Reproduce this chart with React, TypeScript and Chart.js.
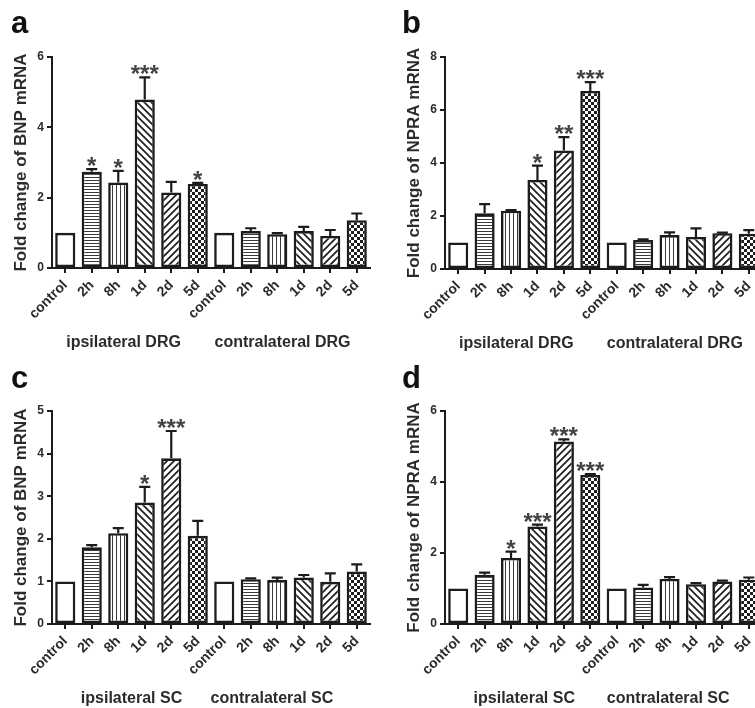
import React, { useEffect, useRef } from 'react';
import { Chart, registerables } from 'chart.js';

Chart.register(...registerables);

const FONT = "'Liberation Sans', Arial, sans-serif";
const TEXT = '#2b2b2b';
const INK = '#1c1c1c';

const categories = ['control', '2h', '8h', '1d', '2d', '5d', 'control', '2h', '8h', '1d', '2d', '5d'];

// Panel a: BNP in DRG
const bnpDrgMean = [1.0, 2.74, 2.43, 4.79, 2.15, 2.39, 1.0, 1.05, 0.96, 1.05, 0.91, 1.36];
const bnpDrgUpper = [1.0, 2.81, 2.76, 5.42, 2.45, 2.42, 1.0, 1.13, 0.99, 1.17, 1.08, 1.55];
const bnpDrgSig = ['', '*', '*', '***', '', '*', '', '', '', '', '', ''];
const bnpDrgTicks = [0, 2, 4, 6];

// Panel b: NPRA in DRG
const npraDrgMean = [1.0, 2.1, 2.2, 3.36, 4.47, 6.72, 1.0, 1.09, 1.28, 1.21, 1.35, 1.33];
const npraDrgUpper = [1.0, 2.45, 2.22, 3.9, 4.98, 7.05, 1.0, 1.12, 1.38, 1.53, 1.37, 1.47];
const npraDrgSig = ['', '', '', '*', '**', '***', '', '', '', '', '', ''];
const npraDrgTicks = [0, 2, 4, 6, 8];

// Panel c: BNP in SC
const bnpScMean = [1.0, 1.8, 2.13, 2.85, 3.89, 2.07, 1.0, 1.05, 1.03, 1.09, 0.99, 1.23];
const bnpScUpper = [1.0, 1.85, 2.25, 3.22, 4.53, 2.42, 1.0, 1.07, 1.09, 1.15, 1.19, 1.4];
const bnpScSig = ['', '', '', '*', '***', '', '', '', '', '', '', ''];
const bnpScTicks = [0, 1, 2, 3, 4, 5];

// Panel d: NPRA in SC
const npraScMean = [1.0, 1.39, 1.86, 2.75, 5.14, 4.2, 1.0, 1.03, 1.27, 1.12, 1.2, 1.25];
const npraScUpper = [1.0, 1.45, 2.04, 2.8, 5.2, 4.22, 1.0, 1.1, 1.32, 1.15, 1.22, 1.31];
const npraScSig = ['', '', '*', '***', '***', '***', '', '', '', '', '', ''];
const npraScTicks = [0, 2, 4, 6];

const drgGroups = ['ipsilateral DRG', 'contralateral DRG'];
const scGroups = ['ipsilateral SC', 'contralateral SC'];

type PanelProps = {
  letter: string;
  left: number;
  top: number;
  width: number;
  height: number;
  chartTop: number;
  chartBottom: number;
  chartRight: number;
  mean: number[];
  upper: number[];
  sig: string[];
  ticks: number[];
  yTitle: string;
  groups: string[];
  groupPos: number[];
};

function makeFills(ctx: CanvasRenderingContext2D) {
  const tile = (w: number, h: number, draw: (g: CanvasRenderingContext2D) => void) => {
    const c = document.createElement('canvas');
    c.width = w;
    c.height = h;
    const g = c.getContext('2d') as CanvasRenderingContext2D;
    g.fillStyle = '#ffffff';
    g.fillRect(0, 0, w, h);
    draw(g);
    return ctx.createPattern(c, 'repeat') as CanvasPattern;
  };
  const horiz = tile(4, 3, (g) => {
    g.fillStyle = '#3a3a3a';
    g.fillRect(0, 0, 4, 1);
  });
  const vert = tile(4, 4, (g) => {
    g.fillStyle = '#3a3a3a';
    g.fillRect(0, 0, 1, 4);
  });
  const back = tile(7, 7, (g) => {
    g.strokeStyle = '#1e1e1e';
    g.lineWidth = 1.7;
    g.beginPath();
    g.moveTo(-2, -2);
    g.lineTo(9, 9);
    g.moveTo(-2, 5);
    g.lineTo(2, 9);
    g.moveTo(5, -2);
    g.lineTo(9, 2);
    g.stroke();
  });
  const fwd = tile(7, 7, (g) => {
    g.strokeStyle = '#1e1e1e';
    g.lineWidth = 1.7;
    g.beginPath();
    g.moveTo(-2, 9);
    g.lineTo(9, -2);
    g.moveTo(-2, 2);
    g.lineTo(2, -2);
    g.moveTo(5, 9);
    g.lineTo(9, 5);
    g.stroke();
  });
  const check = tile(6, 6, (g) => {
    g.fillStyle = '#1e1e1e';
    g.fillRect(0, 0, 3, 3);
    g.fillRect(3, 3, 3, 3);
  });
  const set = ['#ffffff', horiz, vert, back, fwd, check];
  return categories.map((_, i) => set[i % 6]);
}

function Panel(p: PanelProps) {
  const ref = useRef<HTMLCanvasElement | null>(null);
  useEffect(() => {
    const canvas = ref.current as HTMLCanvasElement;
    const ctx = canvas.getContext('2d') as CanvasRenderingContext2D;
    const fills = makeFills(ctx);
    const decor = {
      id: 'decor',
      afterDatasetsDraw(chart: any) {
        const c = chart.ctx as CanvasRenderingContext2D;
        const xs = chart.scales.x;
        const ys = chart.scales.y;
        const meta = chart.getDatasetMeta(0);
        c.save();
        c.strokeStyle = INK;
        c.lineWidth = 2.2;
        meta.data.forEach((bar: any, i: number) => {
          const v = p.mean[i];
          const e = p.upper[i];
          const topPx = ys.getPixelForValue(v);
          const errPx = ys.getPixelForValue(e);
          if (e > v) {
            c.beginPath();
            c.moveTo(bar.x, topPx);
            c.lineTo(bar.x, errPx);
            c.moveTo(bar.x - 5.5, errPx);
            c.lineTo(bar.x + 5.5, errPx);
            c.stroke();
          }
          const s = p.sig[i];
          if (s) {
            c.font = `bold 24px ${FONT}`;
            c.fillStyle = '#444444';
            c.textAlign = 'center';
            c.textBaseline = 'alphabetic';
            const m = c.measureText(s);
            const bottom = Math.min(topPx, errPx) - 3;
            c.fillText(s, bar.x, bottom - m.actualBoundingBoxDescent);
          }
        });
        // group labels
        c.font = `bold 16px ${FONT}`;
        c.fillStyle = TEXT;
        c.textAlign = 'center';
        c.textBaseline = 'middle';
        const x0 = xs.getPixelForTick(0);
        const step = xs.getPixelForTick(1) - x0;
        p.groups.forEach((g, k) => {
          c.fillText(g, x0 + step * p.groupPos[k], chart.chartArea.bottom + 75);
        });
        // panel letter
        c.font = `bold 31px ${FONT}`;
        c.fillStyle = '#111111';
        c.textAlign = 'left';
        c.textBaseline = 'alphabetic';
        c.fillText(p.letter, p.left === 0 ? 11 : 9, 33);
        c.restore();
      },
    };
    const chart = new Chart(canvas, {
      type: 'bar',
      data: {
        labels: categories,
        datasets: [
          {
            data: p.mean,
            backgroundColor: fills as any,
            borderColor: INK,
            borderWidth: 2.6,
            borderSkipped: false,
            barPercentage: 0.76,
            categoryPercentage: 1,
          },
        ],
      },
      options: {
        animation: false,
        responsive: false,
        devicePixelRatio: 1,
        layout: { padding: { top: p.chartTop, right: p.width - p.chartRight, left: 0, bottom: 0 } },
        plugins: { legend: { display: false }, tooltip: { enabled: false }, title: { display: false } },
        scales: {
          x: {
            type: 'category',
            offset: true,
            grid: {
              display: true,
              drawOnChartArea: false,
              drawTicks: true,
              tickLength: 5,
              offset: false,
              color: INK,
              lineWidth: 2,
            },
            border: { display: true, color: INK, width: 2 },
            ticks: {
              color: TEXT,
              font: { family: FONT, size: 14, weight: 'bold' },
              minRotation: 45,
              maxRotation: 45,
              autoSkip: false,
              padding: 4,
            },
            afterFit: (s: any) => {
              s.height = p.height - p.chartBottom;
            },
          },
          y: {
            min: 0,
            max: p.ticks[p.ticks.length - 1],
            afterBuildTicks: (s: any) => {
              s.ticks = p.ticks.map((v) => ({ value: v }));
            },
            grid: {
              display: true,
              drawOnChartArea: false,
              drawTicks: true,
              tickLength: 5,
              color: INK,
              lineWidth: 2,
            },
            border: { display: true, color: INK, width: 2 },
            ticks: {
              color: TEXT,
              font: { family: FONT, size: 12, weight: 'bold' },
              padding: 3,
            },
            title: {
              display: true,
              text: p.yTitle,
              color: TEXT,
              font: { family: FONT, size: 17, weight: 'bold', lineHeight: 1 },
              padding: { top: 12.5, bottom: 0 },
            },
            afterFit: (s: any) => {
              s.width = 52;
            },
          },
        },
      },
      plugins: [decor],
    } as any);
    return () => chart.destroy();
  }, []);
  return (
    <canvas
      ref={ref}
      width={p.width}
      height={p.height}
      style={{ position: 'absolute', left: p.left, top: p.top, width: p.width, height: p.height, display: 'block' }}
    />
  );
}

export default function App() {
  return (
    <div
      style={{
        position: 'fixed',
        left: 0,
        top: 0,
        width: 755,
        height: 708,
        overflow: 'hidden',
        background: '#ffffff',
      }}
    >
      <Panel
        letter="a"
        left={0}
        top={0}
        width={390}
        height={355}
        chartTop={57}
        chartBottom={268}
        chartRight={370}
        mean={bnpDrgMean}
        upper={bnpDrgUpper}
        sig={bnpDrgSig}
        ticks={bnpDrgTicks}
        yTitle="Fold change of BNP mRNA"
        groups={drgGroups}
        groupPos={[2.2, 8.2]}
      />
      <Panel
        letter="b"
        left={393}
        top={0}
        width={390}
        height={355}
        chartTop={57}
        chartBottom={269}
        chartRight={369}
        mean={npraDrgMean}
        upper={npraDrgUpper}
        sig={npraDrgSig}
        ticks={npraDrgTicks}
        yTitle="Fold change of NPRA mRNA"
        groups={drgGroups}
        groupPos={[2.2, 8.2]}
      />
      <Panel
        letter="c"
        left={0}
        top={355}
        width={390}
        height={353}
        chartTop={56}
        chartBottom={269}
        chartRight={370}
        mean={bnpScMean}
        upper={bnpScUpper}
        sig={bnpScSig}
        ticks={bnpScTicks}
        yTitle="Fold change of BNP mRNA"
        groups={scGroups}
        groupPos={[2.5, 7.8]}
      />
      <Panel
        letter="d"
        left={393}
        top={355}
        width={390}
        height={353}
        chartTop={56}
        chartBottom={269}
        chartRight={369}
        mean={npraScMean}
        upper={npraScUpper}
        sig={npraScSig}
        ticks={npraScTicks}
        yTitle="Fold change of NPRA mRNA"
        groups={scGroups}
        groupPos={[2.5, 7.95]}
      />
    </div>
  );
}
